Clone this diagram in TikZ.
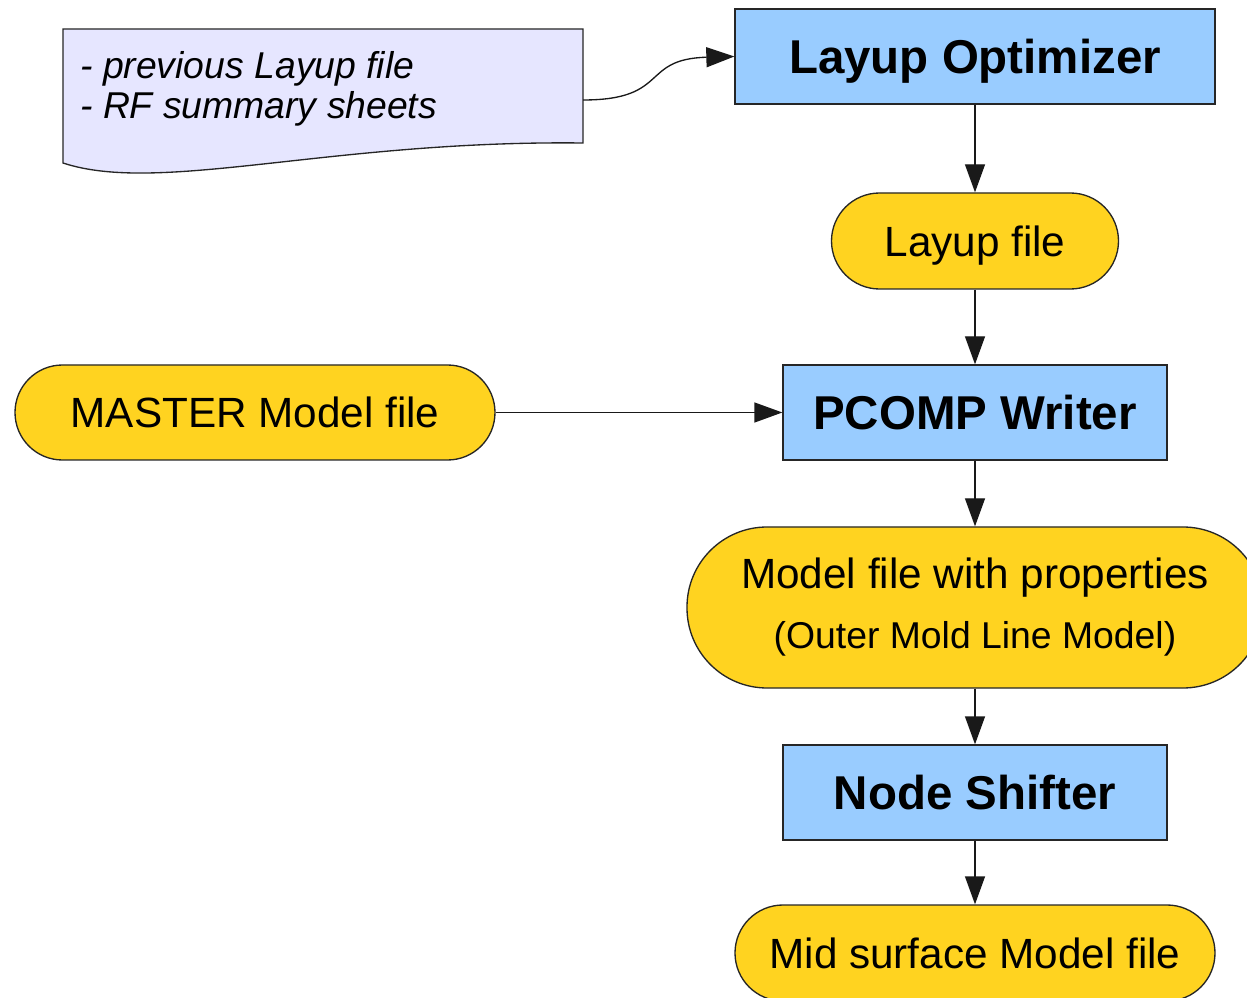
\documentclass[tikz,border=0pt]{standalone}
\usepackage{fontspec}
\setmainfont{Liberation Sans}
\usetikzlibrary{arrows.meta}
\definecolor{procblue}{HTML}{99CCFF}
\definecolor{fileyellow}{HTML}{FFD320}
\definecolor{doclav}{HTML}{E6E6FF}
\begin{document}
\begin{tikzpicture}[x=0.75pt,y=-0.75pt,
  proc/.style={draw=black!85,line width=1pt,fill=procblue,inner sep=0pt,
    font=\fontsize{35.6}{40}\selectfont\bfseries},
  fileterm/.style={draw=black!85,line width=1pt,fill=fileyellow,inner sep=0pt,
    font=\fontsize{31.7}{36}\selectfont},
  conn/.style={draw=black!90,line width=1pt,-{Triangle[length=21pt,width=15pt]}}]
\useasboundingbox (0,0) rectangle (1247,998);
% document shape
\path[draw=black!85,line width=1pt,fill=doclav]
  (63,29) -- (583,29) -- (583,143)
  .. controls (330,140) and (160,195) .. (63,163) -- cycle;
\node[anchor=west,align=left,inner sep=0pt,
  font=\fontsize{28}{30}\selectfont\itshape] (doc) at (80,89)
  {- previous Layup file\\- RF summary sheets};
\coordinate (docout) at (583,100);
% process boxes
\node[proc,minimum width=360pt,minimum height=71.25pt,text depth=0pt] (opt) at (975,56.5) {Layup Optimizer};
\node[proc,minimum width=288pt,minimum height=71.25pt] (pcomp) at (975,412.5) {PCOMP Writer};
\node[proc,minimum width=288pt,minimum height=71.25pt] (shift) at (975,792.5) {Node Shifter};
% file terminators
\node[fileterm,minimum width=215.25pt,minimum height=72pt,rounded corners=36pt,text depth=0pt] (lay) at (975,241) {Layup file};
\node[fileterm,minimum width=360pt,minimum height=71.25pt,rounded corners=35.6pt] (master) at (255,412.5) {MASTER Model file};
\node[fileterm,minimum width=432pt,minimum height=120.75pt,rounded corners=60pt,align=center] (prop) at (975,607.5)
  {Model file with properties\\[9pt]{\fontsize{28}{32}\selectfont(Outer Mold Line Model)}};
\node[fileterm,minimum width=360pt,minimum height=72pt,rounded corners=36pt] (mid) at (975,953) {Mid surface Model file};
% connectors
\draw[conn] (docout) .. controls (670,100) and (640,59) .. (opt.west);
\draw[conn] (opt) -- (lay);
\draw[conn] (lay) -- (pcomp);
\draw[conn] (master) -- (pcomp);
\draw[conn] (pcomp) -- (prop);
\draw[conn] (prop) -- (shift);
\draw[conn] (shift) -- (mid);
\end{tikzpicture}
\end{document}
